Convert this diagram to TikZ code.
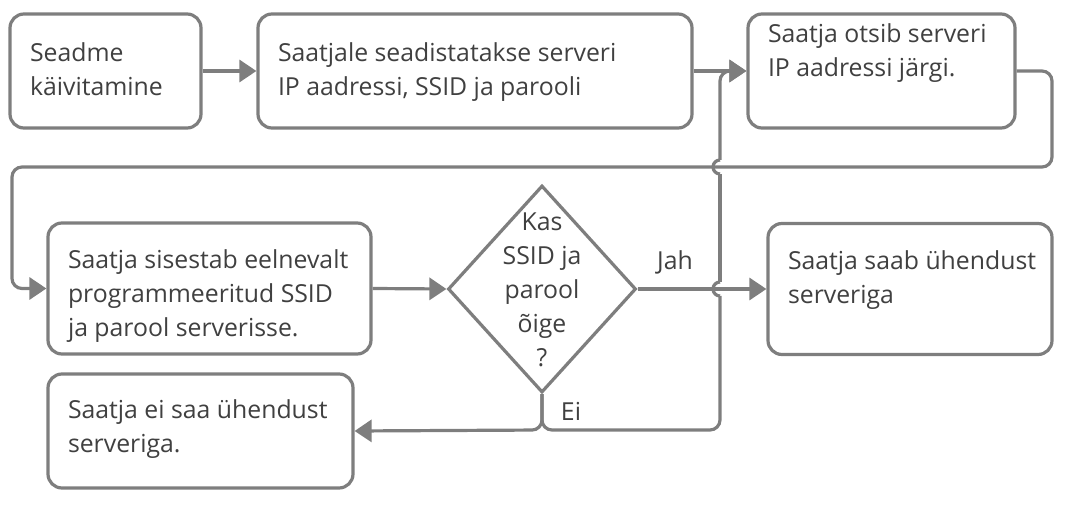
\documentclass[tikz,border=0pt]{standalone}
\usepackage{fontspec}
\setmainfont{Open Sans}
\usetikzlibrary{arrows.meta,shapes.geometric}
\definecolor{lc}{HTML}{7E7E7E}
\definecolor{tc}{HTML}{404040}
\newcommand\boxtxt[3]{\parbox[c][#1][t]{#2}{\raggedright #3}}
\begin{document}
\begin{tikzpicture}[x=1pt,y=-1pt,
  every node/.style={font=\fontsize{24.8}{34}\selectfont, text=tc},
  box/.style={draw=lc, line width=3.2pt, rounded corners=14pt, inner xsep=20pt, inner ysep=0pt, fill=white},
  conn/.style={draw=lc, line width=3.2pt, rounded corners=10pt},
  arr/.style={conn, -{Triangle[length=17pt,width=22pt]}},
  lbl/.style={inner sep=0pt, anchor=base},
]
\useasboundingbox (0,0) rectangle (1067,510);
% boxes
\node[box, minimum height=114] (b1) at (105.5,71) {\boxtxt{56pt}{151pt}{\mbox{Seadme}\\\mbox{käivitamine}}};
\node[box, minimum height=114] (b2) at (475,71) {\boxtxt{56pt}{394pt}{\mbox{Saatjale seadistatakse serveri}\\\mbox{IP aadressi, SSID ja parooli}}};
\node[box, minimum height=114] (b3) at (881.5,71) {\boxtxt{95pt}{227pt}{\mbox{Saatja otsib serveri}\\\mbox{IP aadressi järgi.}}};
\node[box, minimum height=131] (b4) at (209.5,288.5) {\boxtxt{77pt}{283pt}{\mbox{Saatja sisestab eelnevalt}\\\mbox{programmeeritud SSID}\\\mbox{ja parool serverisse.}}};
\node[box, minimum height=131] (b5) at (910,289) {\boxtxt{77pt}{244pt}{\mbox{Saatja saab ühendust}\\\mbox{serveriga}}};
\node[box, minimum height=114] (b6) at (200.5,431) {\boxtxt{62pt}{265pt}{\mbox{Saatja ei saa ühendust}\\\mbox{serveriga.}}};
\node[diamond, draw=lc, line width=3.2pt, minimum width=188, minimum height=207, inner sep=0pt, fill=white] (d) at (542,289) {};
\node[align=center, inner sep=0pt] (dt) at (542,290) {Kas\\SSID ja\\parool\\õige\\?};
% labels
\node[lbl] (jah) at (675,270) {Jah};
\node[lbl] (ei) at (571,420) {Ei};
% helper coordinates
\coordinate (lr) at (1052,167);
\coordinate (ll) at (12,167);
\coordinate (ej) at (542,430);
\coordinate (er) at (720,430);
\coordinate (h1s) at (720,296);
\coordinate (h1e) at (720,282);
\coordinate (h2s) at (720,174);
\coordinate (h2e) at (720,160);
\coordinate (et) at (720,71);
% connectors
\draw[arr] (b1.east) -- (b2.west);
\draw[arr] (b2.east) -- (b3.west);
\draw[arr] (b3.east) -| (lr) -- (ll) |- (b4.west);
\draw[arr] (b4.east) -- (d.west);
\draw[arr] (d.east) -- (b5.west);
\draw[arr] (d.south) -- (ej) -- (b6.east);
\draw[conn] (d.south) -- (ej) -- (er) -- (h1s);
\draw[conn] (h1s) arc[start angle=90, end angle=270, radius=7];
\draw[conn] (h1e) -- (h2s);
\draw[conn] (h2s) arc[start angle=90, end angle=270, radius=7];
\draw[arr] (h2e) -- (et) -- (b3.west);
\end{tikzpicture}
\end{document}
